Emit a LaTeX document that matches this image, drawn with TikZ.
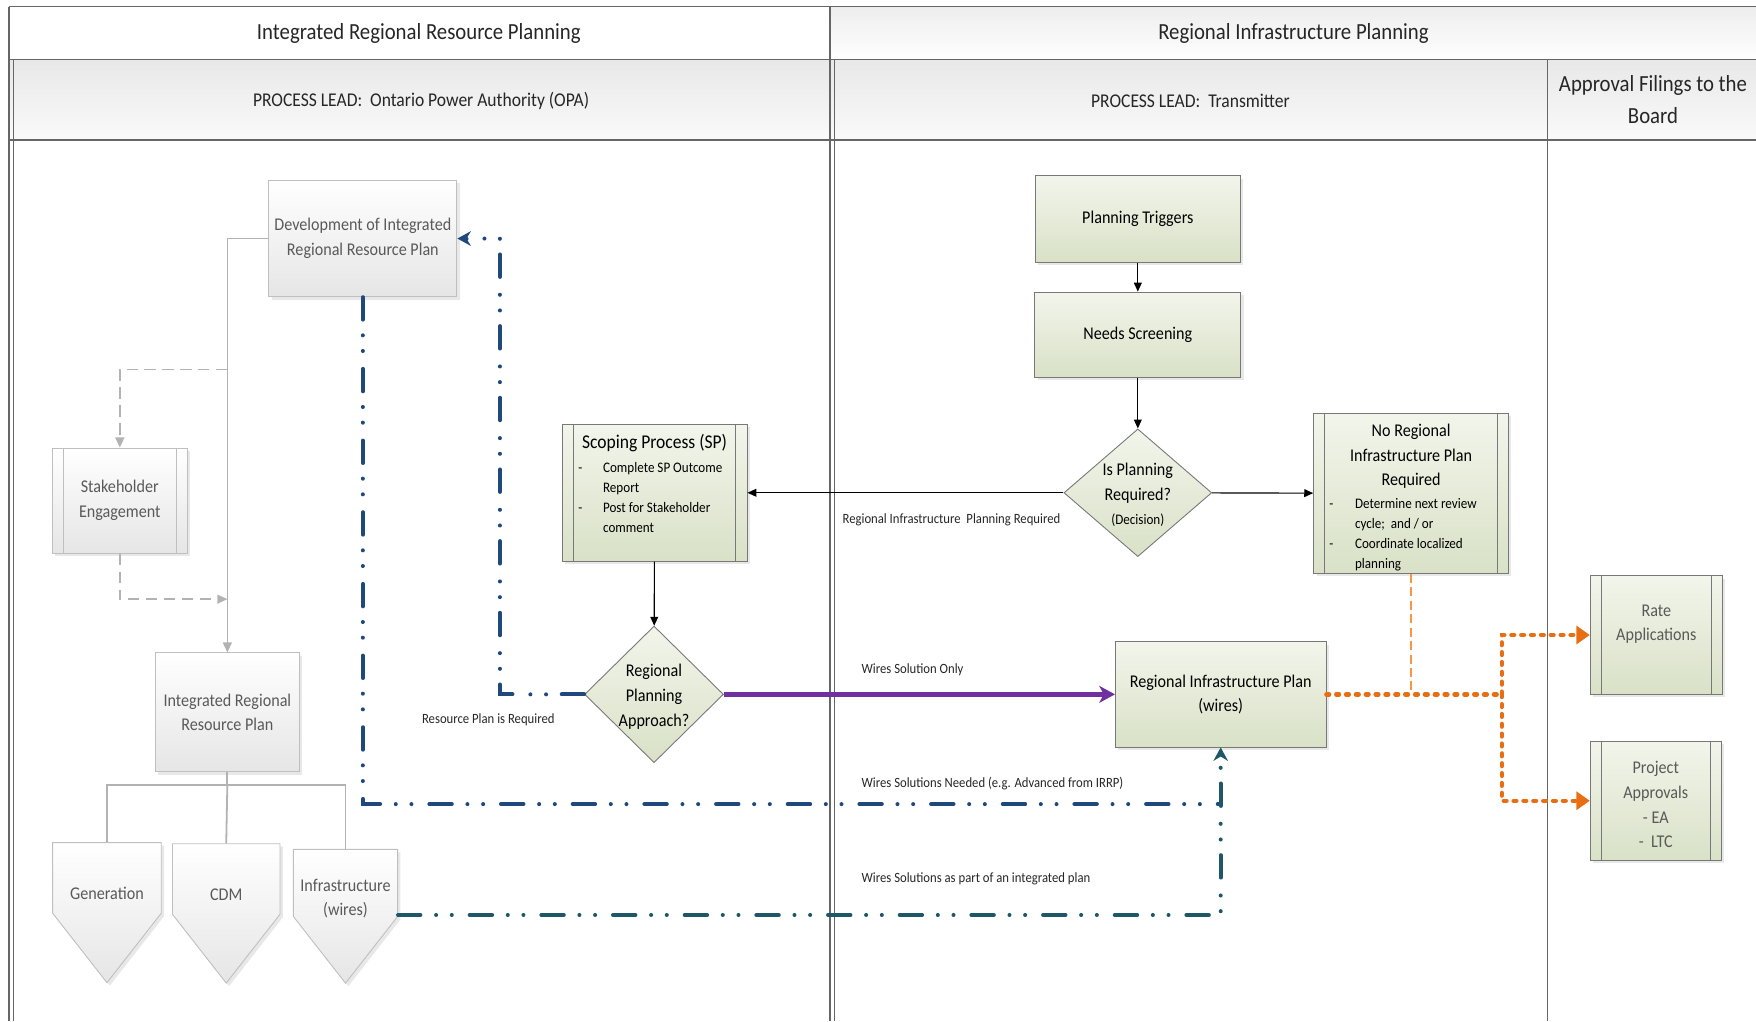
\documentclass[tikz,border=0pt]{standalone}
\usepackage{fontspec}
\setmainfont{Carlito}[FakeStretch=0.9]
\usetikzlibrary{shapes.geometric,shapes.symbols,arrows.meta,shadows,positioning,calc}

\definecolor{boxtop}{RGB}{242,245,235}
\definecolor{boxbot}{RGB}{217,225,199}
\definecolor{boxline}{RGB}{120,120,120}
\definecolor{greytxt}{RGB}{89,89,89}
\definecolor{greyline}{RGB}{191,191,191}
\definecolor{opablue}{RGB}{31,73,125}
\definecolor{wireteal}{RGB}{30,88,104}
\definecolor{wirepurple}{RGB}{112,48,160}
\definecolor{fileorange}{RGB}{232,110,20}
\definecolor{lightorange}{RGB}{247,150,70}

\begin{document}
\begin{tikzpicture}[x=0.5pt,y=-0.5pt,
  lane/.style={draw=black!60,line width=0.6pt},
  headtxt/.style={text=black!85,align=center,font=\fontsize{10.3}{14}\selectfont},
  leadtxt/.style={text=black!85,font=\fontsize{8.7}{11}\selectfont},
  box/.style={draw=boxline,top color=boxtop,bottom color=boxbot,align=center,inner sep=1pt,
    font=\fontsize{8}{11}\selectfont,drop shadow={opacity=0.18,shadow xshift=1.3pt,shadow yshift=-1.3pt}},
  greybox/.style={box,draw=greyline,top color=white,bottom color=black!10,text=greytxt},
  bars/.style={path picture={\draw[#1,line width=0.5pt]
    ([xshift=5pt]path picture bounding box.north west) -- ([xshift=5pt]path picture bounding box.south west)
    ([xshift=-5pt]path picture bounding box.north east) -- ([xshift=-5pt]path picture bounding box.south east);}},
  bars/.default=boxline,
  decision/.style={diamond,draw=boxline,top color=boxtop,bottom color=boxbot,inner sep=0pt},
  decisiontxt/.style={align=center,font=\fontsize{8}{11}\selectfont,yshift=-1pt},
  arrowbox/.style={signal,signal to=south,signal pointer angle=76,draw=greyline,top color=white,bottom color=black!10,
    inner sep=0pt,text height=31.5pt,text depth=0pt,minimum width=0pt,minimum height=0pt,
    drop shadow={opacity=0.18,shadow xshift=1.3pt,shadow yshift=-1.3pt}},
  arrowtxt/.style={text=greytxt,align=center,font=\fontsize{8}{11}\selectfont,yshift=-7pt},
  tag/.style={font=\fontsize{6.3}{8}\selectfont,text=black!85,inner sep=1pt},
  flow/.style={draw=black,line width=0.5pt,-{Triangle[length=4pt,width=3.5pt]}},
  greyflow/.style={draw=black!30,line width=0.7pt,-{Triangle[length=4.5pt,width=4pt]}},
  greydash/.style={greyflow,dash pattern=on 5pt off 3pt},
  treeline/.style={draw=black!30,line width=0.8pt},
  dashdot/.style={line width=1.8pt,line cap=round,dash pattern=on 10pt off 7pt on 0pt off 7pt on 0pt off 8pt},
  orangedot/.style={draw=fileorange,line width=2pt,line cap=round,dash pattern=on 1.2pt off 3.2pt}
]
\useasboundingbox (0,0) rectangle (1568,912);

% swim lanes
\fill[top color=black!9,bottom color=black!2] (8,53) rectangle (1568,125);
\fill[top color=black!7,bottom color=white] (741,6) rectangle (1568,53);
\draw[lane] (8,6) -- (1568,6);
\draw[lane] (8,53) -- (1568,53);
\draw[lane] (8,125) -- (1568,125);
\draw[lane] (8,6) -- (8,912);
\draw[lane] (12,53) -- (12,912);
\draw[lane] (741,6) -- (741,912);
\draw[lane] (745,53) -- (745,912);
\draw[lane] (1382,53) -- (1382,912);

\node[headtxt] (irrphead) at (374,30) {Integrated Regional Resource Planning};
\node[headtxt] (riphead) at (1155,30) {Regional Infrastructure Planning};
\node[leadtxt] (opalead) at (376,90) {PROCESS LEAD:~~Ontario Power Authority (OPA)};
\node[leadtxt] (translead) at (1063,90) {PROCESS LEAD:~~Transmitter};
\node[headtxt] (boardhead) at (1476,89) {Approval Filings to the\\Board};

% IRRP side
\node[greybox,minimum width=84pt,minimum height=52pt] (dev) at (324,213) {Development of Integrated\\Regional Resource Plan};
\node[greybox,bars=greyline,minimum width=60.5pt,minimum height=47pt] (stake) at (107,447) {Stakeholder\\Engagement};
\node[greybox,minimum width=64.5pt,minimum height=53pt] (irrp) at (203,636) {Integrated Regional\\Resource Plan};
\node[arrowbox,text width=48.5pt,anchor=north,label={[arrowtxt]center:Generation}] (gen) at (95.5,752) {};
\node[arrowbox,text width=48pt,anchor=north,label={[arrowtxt]center:CDM}] (cdm) at (202,753) {};
\node[arrowbox,text width=46.5pt,text height=30pt,anchor=north,label={[arrowtxt]center:{Infrastructure\\(wires)}}] (infra) at (308.5,758) {};

% transmitter side
\node[box,minimum width=91.5pt,minimum height=38.5pt] (trig) at (1016,195.5) {Planning Triggers};
\node[box,minimum width=92pt,minimum height=38pt,below=13pt of trig] (needs) {Needs Screening};
\node[decision,minimum width=66pt,minimum height=57pt,
  label={[decisiontxt]center:{Is Planning\\Required?\\{\fontsize{6.5}{9}\selectfont(Decision)}}}] (isplan) at (1016,440) {};
\node[box,bars,minimum width=87pt,minimum height=70.5pt] (noreg) at (1260,440.5)
  {\rule{0pt}{9.5pt}No Regional\\Infrastructure Plan\\Required\\[-1pt]
   \parbox[t]{73pt}{\fontsize{6.5}{9}\selectfont\raggedright
   \makebox[11.5pt][l]{-}Determine next review\\\hspace*{11.5pt}cycle;~~and / or\\
   \makebox[11.5pt][l]{-}Coordinate localized\\\hspace*{11.5pt}planning}};
\node[box,bars,minimum width=82.5pt,minimum height=61pt] (scope) at (584.5,440)
  {\parbox[c][52pt][t]{68pt}{\centering\fontsize{8.7}{11}\selectfont Scoping Process (SP)\par
   \vspace{1.5pt}\raggedright\fontsize{6.5}{9}\selectfont
   \makebox[11pt][l]{-}Complete SP Outcome\\\hspace*{11pt}Report\\
   \makebox[11pt][l]{-}Post for Stakeholder\\\hspace*{11pt}comment}};
\node[decision,minimum width=62pt,minimum height=61pt,
  label={[decisiontxt]center:{Regional\\Planning\\Approach?}}] (rpa) at (584,620) {};
\node[box,minimum width=94pt,minimum height=47pt] (ripw) at (1090,620) {Regional Infrastructure Plan\\(wires)};

% board filings
\node[box,bars,text=greytxt,minimum width=59pt,minimum height=53pt] (rate) at (1479,567) {Rate\\Applications\\\mbox{}};
\node[box,bars,text=greytxt,minimum width=58.5pt,minimum height=53pt] (proj) at (1478.5,715) {\rule{0pt}{9pt}Project\\Approvals\\- EA\\-~~LTC};

% labels
\node[tag,anchor=west] (lblreq) at (750,464) {Regional Infrastructure~~Planning Required};
\node[tag,anchor=west] (lblonly) at (767,598) {Wires Solution Only};
\node[tag] (lblres) at (436,643) {Resource Plan is Required};
\node[tag,anchor=west] (lblneed) at (767,700) {Wires Solutions Needed (e.g. Advanced from IRRP)};
\node[tag,anchor=west] (lblpart) at (767,785) {Wires Solutions as part of an integrated plan};

% grey connectors
\coordinate (stakeout) at (irrp.north |- 0,330);
\coordinate (stakein) at (irrp.north |- 0,535);
\coordinate (fork) at (irrp.south |- 0,701);
\draw[greyflow] (dev.west) -| (irrp.north);
\draw[greydash] (stakeout) -| (stake.north);
\draw[greydash] (stake.south) |- (stakein);
\draw[treeline] (irrp.south) -- (fork);
\draw[treeline] (gen.north) |- (fork) -| (infra.north);
\draw[treeline] (fork) -- (cdm.north);

% process flow
\draw[flow] (trig) -- (needs);
\draw[flow] (needs) -- (isplan);
\draw[flow] (isplan) -- (scope);
\draw[flow] (isplan) -- (noreg);
\draw[flow] (scope) -- (rpa);
\draw[line width=2pt,draw=wirepurple,-{Stealth[length=7pt,width=7.5pt,inset=2pt]}] (rpa.east) -- (ripw.west);

% resource plan loops
\coordinate (bluej) at (ripw.south |- 0,718);
\draw[dashdot,draw=opablue] (dev.south) |- (bluej);
\draw[dashdot,draw=opablue,-{Stealth[length=6pt,width=6.5pt]}] (rpa.west) -| ($(dev.east)+(38,0)$) -- (dev.east);
\draw[dashdot,draw=wireteal,-{Stealth[length=6pt,width=6.5pt]}] (infra.east |- 0,817) -| (ripw.south);

% filings
\coordinate (orgfork) at (1341,620);
\draw[orangedot] (ripw.east) -- (orgfork);
\draw[orangedot,-{Triangle[length=6pt,width=8pt]}] (orgfork) |- (rate.west);
\draw[orangedot,-{Triangle[length=6pt,width=8pt]}] (orgfork) |- (proj.west);
\draw[draw=lightorange,line width=1.2pt,dash pattern=on 4pt off 2pt] (noreg.south) -- (noreg.south |- orgfork);
\end{tikzpicture}
\end{document}
